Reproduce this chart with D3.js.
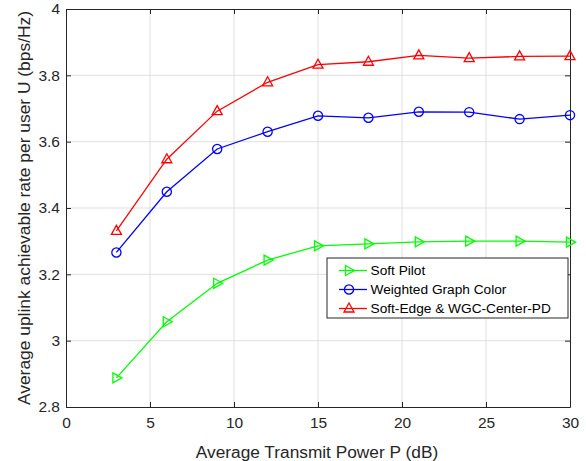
<!DOCTYPE html>
<html>
<head>
<meta charset="utf-8">
<script src="https://cdn.jsdelivr.net/npm/d3@7"></script>
<style>
  body { margin: 0; background: #fff; }
  svg { display: block; font-family: "Liberation Sans", Arial, sans-serif; }
</style>
</head>
<body>
<svg width="586" height="461"></svg>
<script>
const power = [3, 6, 9, 12, 15, 18, 21, 24, 27, 30];
const softPilot = [2.888, 3.057, 3.173, 3.243, 3.286, 3.292, 3.298, 3.300, 3.300, 3.297];
const weightedGraph = [3.266, 3.449, 3.578, 3.630, 3.678, 3.672, 3.690, 3.689, 3.668, 3.680];
const softEdge = [3.331, 3.547, 3.692, 3.779, 3.832, 3.841, 3.860, 3.852, 3.857, 3.858];
const xTicks = [0, 5, 10, 15, 20, 25, 30];
const yTicks = [2.8, 3, 3.2, 3.4, 3.6, 3.8, 4];

const series = [
  { name: "Soft Pilot", values: softPilot, color: "#00ff00", marker: "right" },
  { name: "Weighted Graph Color", values: weightedGraph, color: "#0000ff", marker: "circle" },
  { name: "Soft-Edge & WGC-Center-PD", values: softEdge, color: "#ff0000", marker: "up" }
];

const svg = d3.select("svg");
const mLeft = 66, mRight = 570, mTop = 9, mBottom = 407;

const x = d3.scaleLinear().domain([0, 30]).range([mLeft, mRight]);
const y = d3.scaleLinear().domain([2.8, 4]).range([mBottom, mTop]);

// grid
svg.append("g").selectAll("line").data(xTicks.slice(1, -1)).join("line")
  .attr("x1", d => x(d)).attr("x2", d => x(d))
  .attr("y1", mTop).attr("y2", mBottom)
  .attr("stroke", "#dfdfdf").attr("stroke-width", 1);
svg.append("g").selectAll("line").data(yTicks.slice(1, -1)).join("line")
  .attr("y1", d => y(d)).attr("y2", d => y(d))
  .attr("x1", mLeft).attr("x2", mRight)
  .attr("stroke", "#dfdfdf").attr("stroke-width", 1);

// axes (ticks inward, box)
const axisColor = "#262626";
const fmt = d => d3.format("")(+d.toFixed(1));
svg.append("g").attr("transform", `translate(0,${mBottom})`)
  .call(d3.axisBottom(x).tickValues(xTicks).tickSizeInner(-5).tickSizeOuter(0).tickPadding(10).tickFormat(fmt));
svg.append("g").attr("transform", `translate(${mLeft},0)`)
  .call(d3.axisLeft(y).tickValues(yTicks).tickSizeInner(-5).tickSizeOuter(0).tickPadding(6).tickFormat(fmt));
svg.append("g").attr("transform", `translate(0,${mTop})`)
  .call(d3.axisTop(x).tickValues(xTicks).tickSizeInner(-5).tickSizeOuter(0).tickFormat(""));
svg.append("g").attr("transform", `translate(${mRight},0)`)
  .call(d3.axisRight(y).tickValues(yTicks).tickSizeInner(-5).tickSizeOuter(0).tickFormat(""));
svg.selectAll(".domain, .tick line").attr("stroke", axisColor);
svg.selectAll(".tick text").attr("fill", axisColor).style("font-size", "15.5px")
  .style("font-family", "'Liberation Sans', Arial, sans-serif");

// markers
function drawMarker(g, type, color) {
  if (type === "circle") {
    g.append("circle").attr("r", 4.6).attr("fill", "none").attr("stroke", color).attr("stroke-width", 1.3);
  } else if (type === "up") {
    g.append("path").attr("d", "M0,-5.5L5,3.5L-5,3.5Z").attr("fill", "none").attr("stroke", color).attr("stroke-width", 1.3);
  } else {
    g.append("path").attr("d", "M5.5,0L-3.5,-5L-3.5,5Z").attr("fill", "none").attr("stroke", color).attr("stroke-width", 1.3);
  }
}

const line = d3.line().x((d, i) => x(power[i])).y(d => y(d));
series.forEach(s => {
  svg.append("path").datum(s.values).attr("d", line)
    .attr("fill", "none").attr("stroke", s.color).attr("stroke-width", 1.3);
  s.values.forEach((v, i) => {
    const g = svg.append("g").attr("transform", `translate(${x(power[i])},${y(v)})`);
    drawMarker(g, s.marker, s.color);
  });
});

// legend
const lg = svg.append("g").attr("transform", "translate(327,258)");
lg.append("rect").attr("width", 241).attr("height", 60)
  .attr("fill", "#fff").attr("stroke", axisColor).attr("stroke-width", 1);
series.forEach((s, i) => {
  const yy = 12.5 + i * 19;
  lg.append("line").attr("x1", 12).attr("x2", 40).attr("y1", yy).attr("y2", yy)
    .attr("stroke", s.color).attr("stroke-width", 1.3);
  drawMarker(lg.append("g").attr("transform", `translate(22,${yy})`), s.marker, s.color);
  lg.append("text").attr("x", 43.5).attr("y", yy).attr("dy", "0.35em")
    .style("font-size", "13.7px").attr("fill", "#000").text(s.name);
});

// axis labels
svg.append("text").attr("x", 317).attr("y", 458)
  .attr("text-anchor", "middle").style("font-size", "17.3px").attr("fill", axisColor)
  .text("Average Transmit Power P (dB)");
svg.append("text").attr("transform", `translate(30,${(mTop + mBottom) / 2}) rotate(-90)`)
  .attr("text-anchor", "middle").style("font-size", "17.4px").attr("fill", axisColor)
  .text("Average uplink achievable rate per user U (bps/Hz)");
</script>
</body>
</html>
